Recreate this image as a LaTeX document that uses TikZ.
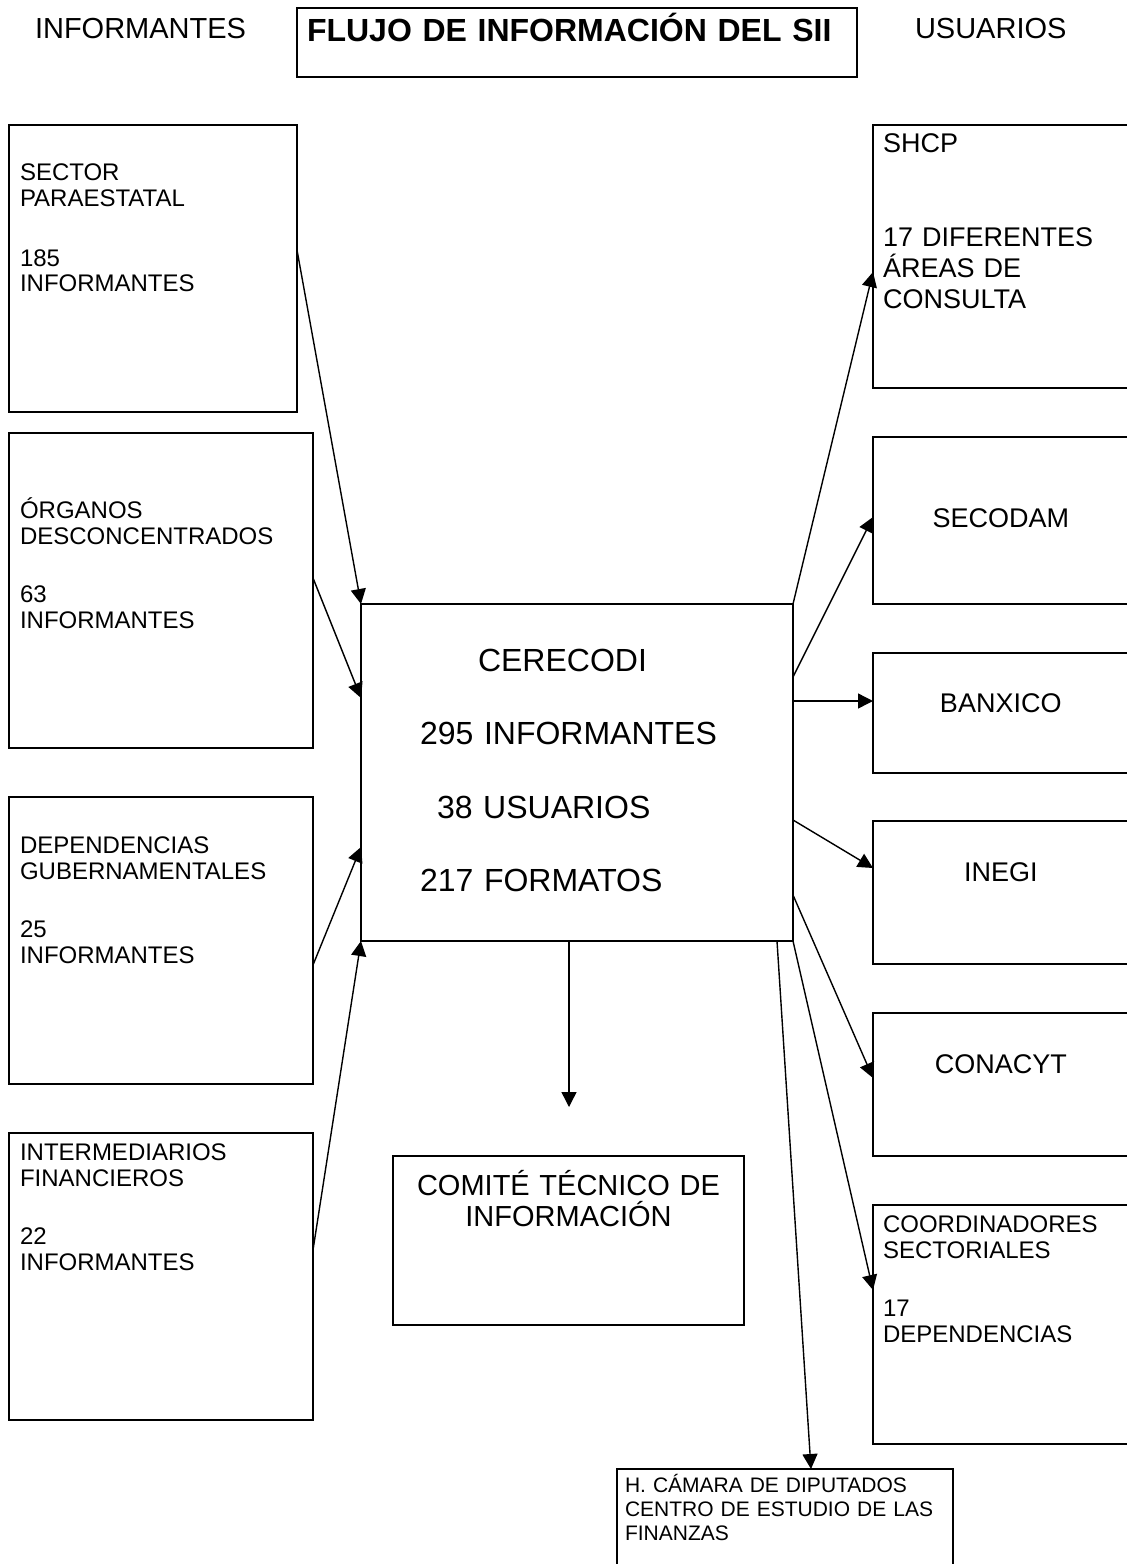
\documentclass[tikz,border=0pt]{standalone}
\usepackage{fontspec}
\setmainfont{Liberation Sans}
\usetikzlibrary{arrows.meta,calc}

\begin{document}
\begin{tikzpicture}[x=0.5pt,y=-0.5pt,
    every node/.style={outer sep=0pt},
    caja/.style={draw,line width=0.7pt,anchor=north west,inner ysep=0pt,inner xsep=5.5pt,align=left},
    chico/.style={font=\fontsize{12pt}{12.75pt}\selectfont},
    medio/.style={font=\fontsize{13.5pt}{15.5pt}\selectfont},
    encab/.style={anchor=base west,inner sep=0pt,font=\fontsize{14.5pt}{17pt}\selectfont},
    flecha/.style={line width=0.7pt,-{Triangle[length=7.5pt,width=7.5pt]}}]
  \useasboundingbox (0,0) rectangle (1127,1564);

  % Encabezados
  \node[encab] (hinf) at (35,38.4) {INFORMANTES};
  \node[encab] (husu) at (915,38.4) {USUARIOS};
  \node[caja,inner xsep=5pt,text width=270pt,text height=16.75pt,text depth=17.75pt,
        font=\bfseries\fontsize{16pt}{19pt}\selectfont] (titulo) at (297,8) {FLUJO DE INFORMACIÓN DEL SII};

  % Informantes
  \node[caja,chico,text width=133pt,text height=27.8pt,text depth=115.7pt] (sector) at (9,125)
    {SECTOR\\PARAESTATAL\\[17.25pt]185\\INFORMANTES};
  \node[caja,chico,text width=141pt,text height=42.8pt,text depth=114.7pt] (organos) at (9,433)
    {ÓRGANOS\\DESCONCENTRADOS\\[16.5pt]63\\INFORMANTES};
  \node[caja,chico,text width=141pt,text height=28.3pt,text depth=115.2pt] (dependencias) at (9,797)
    {DEPENDENCIAS\\GUBERNAMENTALES\\[16.5pt]25\\INFORMANTES};
  \node[caja,chico,text width=141pt,text height=13.8pt,text depth=129.7pt] (intermediarios) at (9,1133)
    {INTERMEDIARIOS\\FINANCIEROS\\[16.5pt]22\\INFORMANTES};

  % Centro
  \node[caja,inner xsep=29.5pt,text width=157pt,text height=33.75pt,text depth=134.75pt,
        font=\fontsize{16pt}{36.7pt}\selectfont] (cere) at (361,604)
    {\hspace*{29pt}CERECODI\\295 INFORMANTES\\\hspace*{8.5pt}38 USUARIOS\\217 FORMATOS};
  \node[caja,align=center,inner xsep=5pt,text width=165.5pt,text height=19.7pt,text depth=64.8pt,
        font=\fontsize{14.5pt}{15.5pt}\selectfont] (comite) at (393,1156)
    {COMITÉ TÉCNICO DE\\INFORMACIÓN};
  \coordinate (bajo) at (569,1107);
  \node[caja,inner xsep=4pt,text width=160pt,text height=11.75pt,text depth=43.75pt,
        font=\fontsize{10.5pt}{12pt}\selectfont] (camara) at (617,1469)
    {H. CÁMARA DE DIPUTADOS\\CENTRO DE ESTUDIO DE LAS\\FINANZAS};

  % Usuarios
  \node[caja,medio,inner xsep=5pt,text width=117.75pt,text height=13.85pt,text depth=117.65pt] (shcp) at (873,125)
    {SHCP\\[31.5pt]17 DIFERENTES\\ÁREAS DE\\CONSULTA};
  \foreach \nom/\yy/\alto/\prof/\txt in {secodam/437/45.35/38.15/SECODAM,banxico/653/29.85/30.15/BANXICO,
      inegi/821/30.35/41.15/INEGI,conacyt/1013/30.35/41.15/CONACYT} {
    \node[caja,medio,align=center,inner xsep=5pt,text width=117.75pt,
          text height=\alto pt,text depth=\prof pt] (\nom) at (873,\yy) {\txt};
  }
  \node[caja,chico,inner xsep=5pt,text width=117.75pt,text height=13.8pt,text depth=105.7pt] (coord) at (873,1205)
    {COORDINADORES\\SECTORIALES\\[16.5pt]17\\DEPENDENCIAS};

  % Flechas de los informantes
  \draw[flecha] ($(sector.north east)+(0,125)$) -- (cere.north west);
  \draw[flecha] ($(organos.north east)+(0,145)$) -- ($(cere.north west)+(0,94)$);
  \draw[flecha] ($(dependencias.north east)+(0,168)$) -- ($(cere.north west)+(0,243)$);
  \draw[flecha] ($(intermediarios.north east)+(0,117)$) -- (cere.south west);

  % Flechas a los usuarios
  \foreach \a/\nom/\b in {0/shcp/147,73/secodam/80,97/banxico/48,216/inegi/47,291/conacyt/65,337/coord/85} {
    \draw[flecha] ($(cere.north east)+(0,\a)$) -- ($(\nom.north west)+(0,\b)$);
  }
  \draw[flecha] ($(cere.south east)+(-16,0)$) -- ($(camara.north west)+(194,0)$);
  \draw[flecha] ($(cere.south west)+(208,0)$) -- (bajo);
\end{tikzpicture}
\end{document}
